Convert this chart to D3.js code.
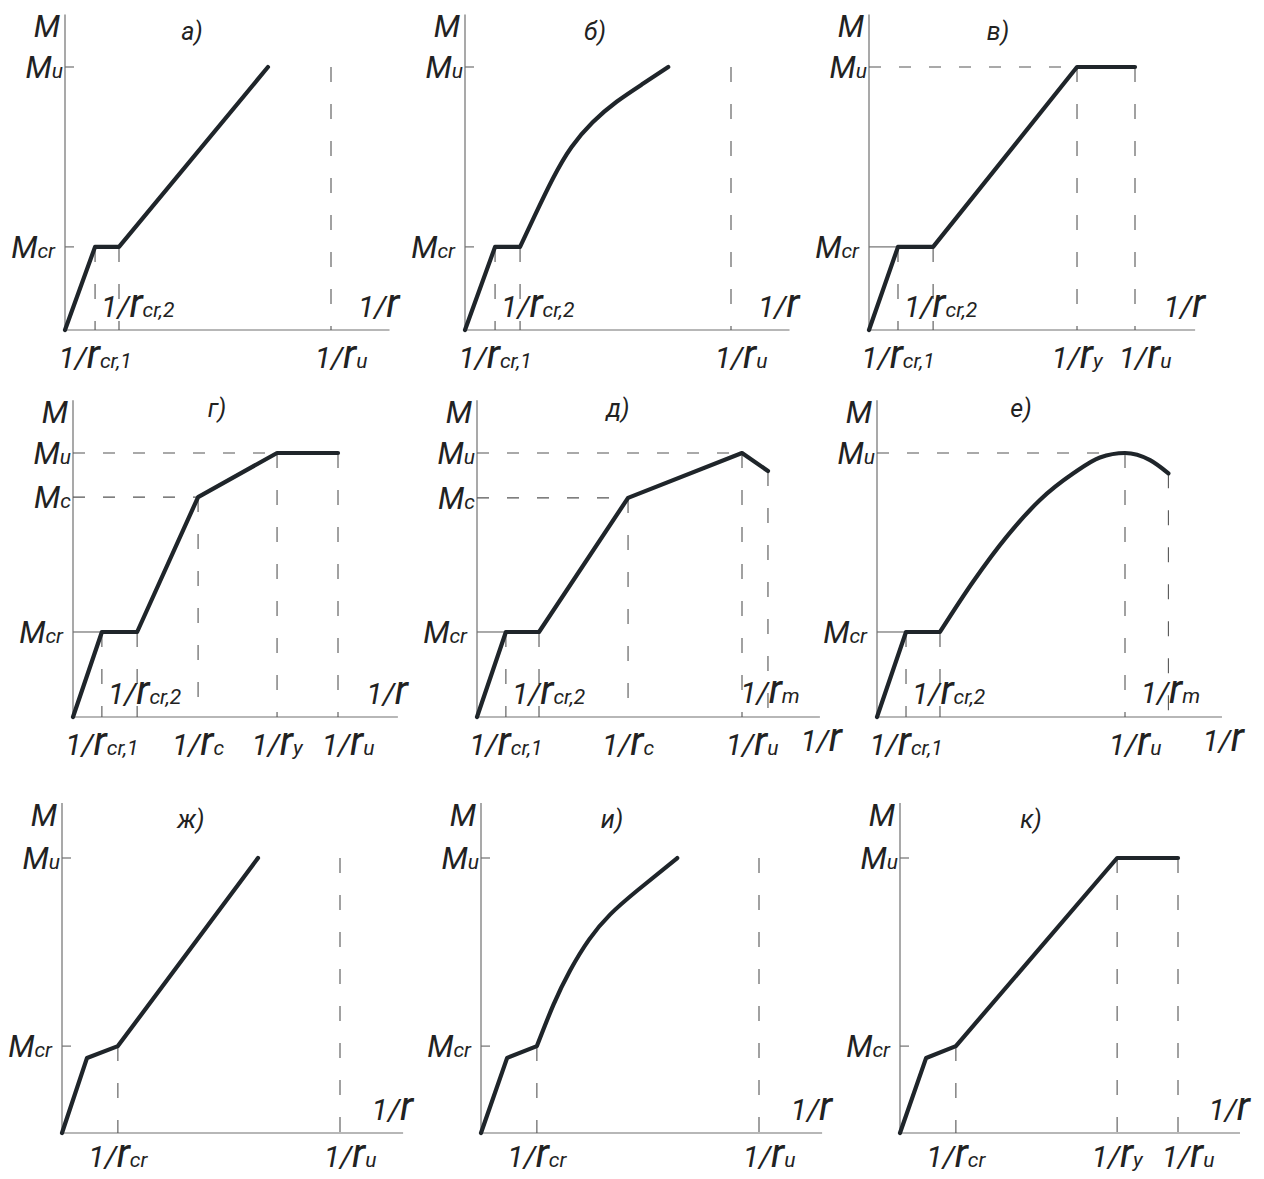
<!doctype html>
<html>
<head>
<meta charset="utf-8">
<title>M - 1/r diagrams</title>
<script src="https://d3js.org/d3.v7.min.js"></script>
<style>
  body { margin: 0; background: #fff; }
  text { font-family: Roboto, 'Open Sans', 'DejaVu Sans', sans-serif; font-style: italic; font-weight: 400; fill: #222; }
  .axis { stroke: #707070; stroke-width: 1.2; fill: none; }
  .guide { stroke: #555; stroke-width: 1.1; fill: none; }
  .hdash { stroke-dasharray: 12,18; }
  .vdash { stroke-dasharray: 15,22; }
  .curve { stroke: #1f252a; stroke-width: 4.2; fill: none; stroke-linejoin: round; stroke-linecap: round; }
</style>
</head>
<body>
<svg id="chart" width="1264" height="1179"></svg>
<script>

// moment M in units of M_u, curvature 1/r in units of 1/r_u
var letters = ["а)", "б)", "в)", "г)", "д)", "е)", "ж)", "и)", "к)"];

// straight parts of the diagrams
var curveA  = [[0, 0], [0.113, 0.316], [0.203, 0.316], [0.763, 1]];
var curveB  = [[0, 0], [0.113, 0.316], [0.207, 0.316]];
var curveV  = [[0, 0], [0.109, 0.316], [0.241, 0.316], [0.782, 1], [1, 1]];
var curveG  = [[0, 0], [0.109, 0.322], [0.242, 0.322], [0.472, 0.833], [0.77, 1], [1, 1]];
var curveD  = [[0, 0], [0.109, 0.322], [0.234, 0.322], [0.57, 0.83], [1, 1], [1.098, 0.932]];
var curveE  = [[0, 0], [0.117, 0.322], [0.254, 0.322]];
var curveZh = [[0, 0], [0.09, 0.273], [0.201, 0.316], [0.705, 1]];
var curveI  = [[0, 0], [0.094, 0.273], [0.201, 0.316]];
var curveK  = [[0, 0], [0.094, 0.273], [0.201, 0.316], [0.781, 1], [1, 1]];

// curved parts (б, е, и)
var smoothB = [[0.207, 0.316], [0.26, 0.43], [0.33, 0.575], [0.40, 0.695], [0.48, 0.79], [0.57, 0.868], [0.67, 0.937], [0.764, 1]];
var smoothE = [[0.254, 0.322], [0.388, 0.513], [0.523, 0.683], [0.657, 0.822], [0.792, 0.923], [0.899, 0.983], [1, 1], [1.101, 0.973], [1.175, 0.923]];
var smoothI = [[0.201, 0.316], [0.26, 0.465], [0.32, 0.59], [0.39, 0.705], [0.465, 0.795], [0.56, 0.88], [0.706, 1]];

// M levels: [label, M, 1/r where the guide ends, guide kind]
var levelsA  = [["M_u", 1, 0, "tick"], ["M_cr", 0.316, 0, "tick"]];
var levelsB  = [["M_u", 1, 0, "tick"], ["M_cr", 0.316, 0, "tick"]];
var levelsV  = [["M_u", 1, 0.782, "dash"], ["M_cr", 0.316, 0.109, "solid"]];
var levelsG  = [["M_u", 1, 0.77, "dash"], ["M_c", 0.833, 0.472, "dash"], ["M_cr", 0.322, 0.109, "solid"]];
var levelsD  = [["M_u", 1, 1, "dash"], ["M_c", 0.83, 0.57, "dash"], ["M_cr", 0.322, 0.109, "solid"]];
var levelsE  = [["M_u", 1, 1, "dash"], ["M_cr", 0.322, 0.117, "solid"]];
var levelsZh = [["M_u", 1, 0, "tick"], ["M_cr", 0.316, 0, "tick"]];
var levelsI  = [["M_u", 1, 0, "tick"], ["M_cr", 0.316, 0, "tick"]];
var levelsK  = [["M_u", 1, 0, "tick"], ["M_cr", 0.316, 0, "tick"]];

// curvature marks: [label, 1/r, M where the dashed guide starts, label row]
var marksA  = [["1/r_cr,1", 0.113, 0.316, "low"], ["1/r_cr,2", 0.203, 0.316, "mid"], ["1/r_u", 1, 1, "low"]];
var marksB  = [["1/r_cr,1", 0.113, 0.316, "low"], ["1/r_cr,2", 0.207, 0.316, "mid"], ["1/r_u", 1, 1, "low"]];
var marksV  = [["1/r_cr,1", 0.109, 0.316, "low"], ["1/r_cr,2", 0.241, 0.316, "mid"], ["1/r_y", 0.782, 1, "low"], ["1/r_u", 1, 1, "low"]];
var marksG  = [["1/r_cr,1", 0.109, 0.322, "low"], ["1/r_cr,2", 0.242, 0.322, "mid"], ["1/r_c", 0.472, 0.833, "low"], ["1/r_y", 0.77, 1, "low"], ["1/r_u", 1, 1, "low"]];
var marksD  = [["1/r_cr,1", 0.109, 0.322, "low"], ["1/r_cr,2", 0.234, 0.322, "mid"], ["1/r_c", 0.57, 0.83, "low"], ["1/r_u", 1, 1, "low"], ["1/r_m", 1.098, 0.932, "top"]];
var marksE  = [["1/r_cr,1", 0.117, 0.322, "low"], ["1/r_cr,2", 0.254, 0.322, "mid"], ["1/r_u", 1, 1, "low"], ["1/r_m", 1.175, 0.923, "top"]];
var marksZh = [["1/r_cr", 0.201, 0.316, "low"], ["1/r_u", 1, 1, "low"]];
var marksI  = [["1/r_cr", 0.201, 0.316, "low"], ["1/r_u", 1, 1, "low"]];
var marksK  = [["1/r_cr", 0.201, 0.316, "low"], ["1/r_y", 0.781, 1, "low"], ["1/r_u", 1, 1, "low"]];

// where the "1/r" axis title sits
var axisTitleRow = ["high", "high", "high", "high", "low", "low", "high", "high", "high"];

var curves  = [curveA, curveB, curveV, curveG, curveD, curveE, curveZh, curveI, curveK];
var smooths = [null, smoothB, null, null, null, smoothE, null, smoothI, null];
var levels  = [levelsA, levelsB, levelsV, levelsG, levelsD, levelsE, levelsZh, levelsI, levelsK];
var marks   = [marksA, marksB, marksV, marksG, marksD, marksE, marksZh, marksI, marksK];

// panel frames (pixels): origin, pixels per unit, axis length, letter offset
var frames = [
  {ox: 65,  oy: 330,  ux: 266, uy: 263, xMax: 1.22,  lx: 127, ly: 26},
  {ox: 465, oy: 330,  ux: 266, uy: 263, xMax: 1.22,  lx: 130, ly: 26},
  {ox: 869, oy: 330,  ux: 266, uy: 263, xMax: 1.226, lx: 129, ly: 26},
  {ox: 73,  oy: 717,  ux: 265, uy: 264, xMax: 1.226, lx: 144, ly: 17},
  {ox: 477, oy: 717,  ux: 265, uy: 264, xMax: 1.294, lx: 141, ly: 17},
  {ox: 877, oy: 717,  ux: 248, uy: 264, xMax: 1.391, lx: 144, ly: 17},
  {ox: 62,  oy: 1133, ux: 278, uy: 275, xMax: 1.227, lx: 129, ly: 25},
  {ox: 481, oy: 1133, ux: 278, uy: 275, xMax: 1.227, lx: 131, ly: 25},
  {ox: 900, oy: 1133, ux: 278, uy: 275, xMax: 1.223, lx: 131, ly: 25}
];
var yMax = 1.2;

var svg = d3.select("#chart");

// "1/r_cr,1" -> 1/ + tall r + subscript ; "M_u" -> M + subscript
function label(g, str, x, y, anchor) {
  var t = g.append("text").attr("x", x).attr("y", y).attr("text-anchor", anchor);
  var parts = str.split("_");
  var head = parts[0];
  if (head.slice(-1) == "r") {
    t.append("tspan").attr("font-size", 30).text(head.slice(0, -1));
    t.append("tspan").attr("font-size", 40).text("r");
  } else {
    t.append("tspan").attr("font-size", 31).text(head);
  }
  if (parts[1]) t.append("tspan").attr("font-size", 21).text(parts[1]);
  return t;
}

frames.forEach(function(f, i) {
  var g = svg.append("g");
  var x = d3.scaleLinear().domain([0, 1]).range([f.ox, f.ox + f.ux]);
  var y = d3.scaleLinear().domain([0, 1]).range([f.oy, f.oy - f.uy]);
  var top = y(yMax);
  var low = f.oy > 1000 ? 34 : 38;

  // axes
  g.append("line").attr("class", "axis")
    .attr("x1", x(0)).attr("x2", x(0)).attr("y1", top).attr("y2", y(0));
  g.append("line").attr("class", "axis")
    .attr("x1", x(0)).attr("x2", x(f.xMax)).attr("y1", y(0)).attr("y2", y(0));

  // M levels
  levels[i].forEach(function(d) {
    var x2 = d[3] == "tick" ? x(0) + 9 : x(d[2]);
    g.append("line")
      .attr("class", d[3] == "dash" ? "guide hdash" : "axis")
      .attr("x1", x(0)).attr("x2", x2).attr("y1", y(d[1])).attr("y2", y(d[1]));
    label(g, d[0], x(0) - (d[0] == "M_cr" ? 10 : 2), y(d[1]) + 11, "end");
  });

  // curvature marks
  marks[i].forEach(function(d, j) {
    g.append("line").attr("class", "guide vdash")
      .attr("x1", x(d[1])).attr("x2", x(d[1])).attr("y1", y(d[2])).attr("y2", y(0));
    var sub = d[0].split("_")[1];
    if (d[3] == "low") {
      label(g, d[0], x(d[1]) + (sub == "u" ? 10 : 0), y(0) + low, "middle");
    } else if (d[3] == "mid") {
      label(g, d[0], x(marks[i][j - 1][1]) + 6, y(0) - 13, "start");
    } else {
      label(g, d[0], x(d[1]) + 2, y(0) - 14, "middle");
    }
  });

  // diagram
  var line = d3.line().x(function(d) { return x(d[0]); }).y(function(d) { return y(d[1]); });
  var path = line(curves[i]);
  if (smooths[i]) {
    var kind = i == 5 ? d3.curveMonotoneX : d3.curveNatural;
    path += line.curve(kind)(smooths[i]).replace(/^M/, "L");
  }
  g.append("path").attr("class", "curve").attr("d", path);

  // titles
  label(g, "M", x(0) - 5, top + 23, "end");
  if (axisTitleRow[i] == "high") {
    label(g, "1/r", x(f.xMax) + 10, y(0) - 13, "end");
  } else {
    label(g, "1/r", x(f.xMax) + 22, y(0) + low - 4, "end");
  }
  g.append("text").attr("x", f.ox + f.lx).attr("y", top + f.ly)
    .attr("text-anchor", "middle").attr("font-size", 25).text(letters[i]);
});

</script>
</body>
</html>
